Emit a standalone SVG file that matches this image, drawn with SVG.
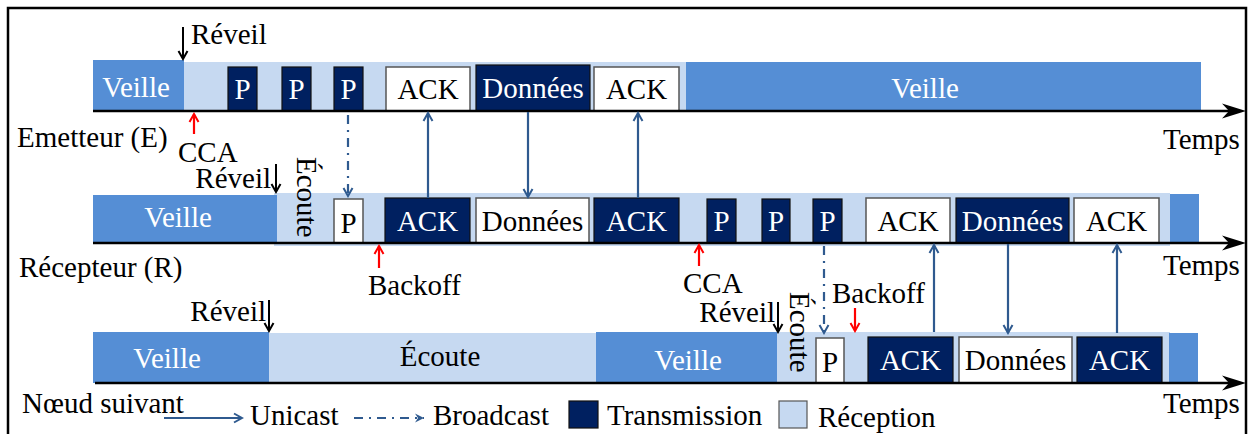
<svg xmlns="http://www.w3.org/2000/svg" width="1248" height="434" viewBox="0 0 1248 434">
  <style>
    text { font-family: "Liberation Serif", "Times New Roman", serif; font-size: 29px; fill: #000; }
    .w { fill: #fff; }
    .c { text-anchor: middle; }
    .e { text-anchor: end; }
    .sleep { fill: #558ED5; }
    .listen { fill: #C6D9F1; }
    .tx { fill: #002060; stroke: #111; stroke-width: 1.2; }
    .rx { fill: #fff; stroke: #555; stroke-width: 1.5; }
    .axis { stroke: #000; stroke-width: 2.5; fill: none; }
    .uni { stroke: #2F5A8F; stroke-width: 2.2; fill: none; marker-end: url(#blueHead); }
    .bc { stroke: #2F5A8F; stroke-width: 2.2; fill: none; stroke-dasharray: 9 6 2 6; marker-end: url(#blueHead); }
    .wake { stroke: #000; stroke-width: 2; fill: none; marker-end: url(#blackHead); }
    .red { stroke: #FF0000; stroke-width: 2.2; fill: none; marker-end: url(#redHead); }
  </style>
  <defs>
    <marker id="blueHead" markerUnits="userSpaceOnUse" markerWidth="12" markerHeight="12" viewBox="0 0 12 12" refX="10" refY="6" orient="auto">
      <path d="M2,1.5 L10,6 L2,10.5" fill="none" stroke="#2F5A8F" stroke-width="2"/>
    </marker>
    <marker id="blackHead" markerUnits="userSpaceOnUse" markerWidth="12" markerHeight="12" viewBox="0 0 12 12" refX="10" refY="6" orient="auto">
      <path d="M2,1.5 L10,6 L2,10.5" fill="none" stroke="#000" stroke-width="2"/>
    </marker>
    <marker id="redHead" markerUnits="userSpaceOnUse" markerWidth="12" markerHeight="12" viewBox="0 0 12 12" refX="10" refY="6" orient="auto">
      <path d="M2,1.5 L10,6 L2,10.5" fill="none" stroke="#FF0000" stroke-width="2"/>
    </marker>
    <marker id="blueFill" markerUnits="userSpaceOnUse" markerWidth="12" markerHeight="12" viewBox="0 0 12 12" refX="10" refY="6" orient="auto">
      <path d="M1,1.5 L10,6 L1,10.5 L4,6 Z" fill="#2F5A8F"/>
    </marker>
  </defs>

  <!-- outer frame -->
  <rect x="8" y="8" width="1238" height="440" fill="#fff" stroke="#000" stroke-width="2.5"/>

  <!-- ===== Emetteur (E) ===== -->
  <g id="emetteur">
    <rect class="listen" x="184" y="62" width="502" height="49"/>
    <rect class="sleep" x="93" y="60" width="91" height="51"/>
    <text class="w c" x="136" y="97">Veille</text>
    <rect class="tx" x="228" y="67" width="29" height="44"/>
    <text class="w c" x="242.5" y="99">P</text>
    <rect class="tx" x="282" y="67" width="29" height="44"/>
    <text class="w c" x="296.5" y="99">P</text>
    <rect class="tx" x="334" y="67" width="29" height="44"/>
    <text class="w c" x="348.5" y="99">P</text>
    <rect class="rx" x="386" y="67" width="84" height="44"/>
    <text class="c" x="428" y="99">ACK</text>
    <rect class="tx" x="476" y="65" width="114" height="46"/>
    <text class="w c" x="533" y="98">Données</text>
    <rect class="rx" x="594" y="67" width="85" height="44"/>
    <text class="c" x="636.5" y="99">ACK</text>
    <rect class="sleep" x="686" y="62" width="515" height="49"/>
    <text class="w c" x="925" y="98">Veille</text>
    <path class="axis" d="M93,111 H1232"/>
    <path d="M1246,111 L1222,103.5 L1229,111 L1222,118.5 Z" fill="#000"/>
    <path class="wake" d="M183,27 V59"/>
    <text x="191" y="44">Réveil</text>
    <path class="red" d="M194,134 V114"/>
    <text x="178" y="162">CCA</text>
    <text x="17" y="147">Emetteur (E)</text>
    <text x="1163" y="149">Temps</text>
  </g>

  <!-- ===== Récepteur (R) ===== -->
  <g id="recepteur">
    <rect class="listen" x="274" y="193" width="896" height="53"/>
    <rect class="sleep" x="93" y="195" width="184" height="48"/>
    <text class="w c" x="178" y="227">Veille</text>
    <text transform="translate(297,157) rotate(90)">Écoute</text>
    <rect class="rx" x="334" y="199" width="29" height="44"/>
    <text class="c" x="348.5" y="233">P</text>
    <rect class="tx" x="385" y="198" width="85" height="45"/>
    <text class="w c" x="427.5" y="231">ACK</text>
    <rect class="rx" x="476" y="198" width="113" height="45"/>
    <text class="c" x="532.5" y="231">Données</text>
    <rect class="tx" x="594" y="198" width="85" height="45"/>
    <text class="w c" x="636.5" y="231">ACK</text>
    <rect class="tx" x="707" y="199" width="29" height="44"/>
    <text class="w c" x="721.5" y="231">P</text>
    <rect class="tx" x="762" y="199" width="28" height="44"/>
    <text class="w c" x="776" y="231">P</text>
    <rect class="tx" x="813" y="199" width="29" height="44"/>
    <text class="w c" x="827.5" y="231">P</text>
    <rect class="rx" x="866" y="198" width="84" height="45"/>
    <text class="c" x="908" y="231">ACK</text>
    <rect class="tx" x="956" y="198" width="113" height="45"/>
    <text class="w c" x="1012.5" y="231">Données</text>
    <rect class="rx" x="1074" y="198" width="85" height="45"/>
    <text class="c" x="1116.5" y="231">ACK</text>
    <rect class="sleep" x="1170" y="194" width="29" height="49"/>
    <path class="axis" d="M93,243 H1232"/>
    <path d="M1246,243 L1222,235.5 L1229,243 L1222,250.5 Z" fill="#000"/>
    <path class="wake" d="M276,164 V192"/>
    <text class="e" x="271" y="188">Réveil</text>
    <path class="red" d="M379,268 V246"/>
    <text x="368" y="295">Backoff</text>
    <path class="red" d="M699,266 V245"/>
    <text x="683" y="293">CCA</text>
    <text x="19" y="277">Récepteur (R)</text>
    <text x="1163" y="275">Temps</text>
  </g>

  <!-- ===== Nœud suivant ===== -->
  <g id="noeud-suivant">
    <rect class="listen" x="269" y="333" width="327" height="51"/>
    <rect class="listen" x="777" y="332" width="393" height="52"/>
    <rect class="sleep" x="93" y="332" width="176" height="51"/>
    <text class="w c" x="167" y="368">Veille</text>
    <text class="c" x="440" y="366">Écoute</text>
    <rect class="sleep" x="596" y="332" width="181" height="51"/>
    <text class="w c" x="688" y="370">Veille</text>
    <text transform="translate(790,292) rotate(90)">Écoute</text>
    <rect class="rx" x="816" y="338" width="28" height="45"/>
    <text class="c" x="830" y="372">P</text>
    <rect class="tx" x="868" y="337" width="85" height="46"/>
    <text class="w c" x="910.5" y="370">ACK</text>
    <rect class="rx" x="959" y="337" width="113" height="46"/>
    <text class="c" x="1015.5" y="370">Données</text>
    <rect class="tx" x="1077" y="337" width="85" height="46"/>
    <text class="w c" x="1119.5" y="370">ACK</text>
    <rect class="sleep" x="1169" y="333" width="29" height="50"/>
    <path class="axis" d="M95,383 H1232"/>
    <path d="M1246,383 L1222,375.5 L1229,383 L1222,390.5 Z" fill="#000"/>
    <path class="wake" d="M269,300 V331"/>
    <text class="e" x="266" y="321">Réveil</text>
    <path class="wake" d="M778,302 V332"/>
    <text class="e" x="775" y="322">Réveil</text>
    <text x="832" y="303">Backoff</text>
    <path class="red" d="M855,308 V331"/>
    <text x="22" y="413">Nœud suivant</text>
    <text x="1163" y="413">Temps</text>
  </g>

  <!-- ===== messages between nodes ===== -->
  <g id="connectors">
    <path class="bc" d="M348,115 V196"/>
    <path class="uni" d="M428,198 V113"/>
    <path class="uni" d="M528,112 V197"/>
    <path class="uni" d="M638,198 V113"/>
    <path class="bc" d="M824,246 V333"/>
    <path class="uni" d="M934,332 V245"/>
    <path class="uni" d="M1008,244 V333"/>
    <path class="uni" d="M1117,333 V245"/>
  </g>

  <!-- ===== legend ===== -->
  <g id="legend">
    <path class="uni" d="M164,418 H242"/>
    <text x="250" y="425">Unicast</text>
    <path d="M354,418 H424" stroke="#2F5A8F" stroke-width="2.2" fill="none" stroke-dasharray="9 6 2 6" marker-end="url(#blueFill)"/>
    <text x="433" y="425">Broadcast</text>
    <rect class="tx" x="569" y="401" width="29" height="27"/>
    <text x="607" y="425">Transmission</text>
    <rect x="779" y="401" width="28" height="27" fill="#C6D9F1" stroke="#555" stroke-width="1.2"/>
    <text x="818" y="427">Réception</text>
  </g>
</svg>
